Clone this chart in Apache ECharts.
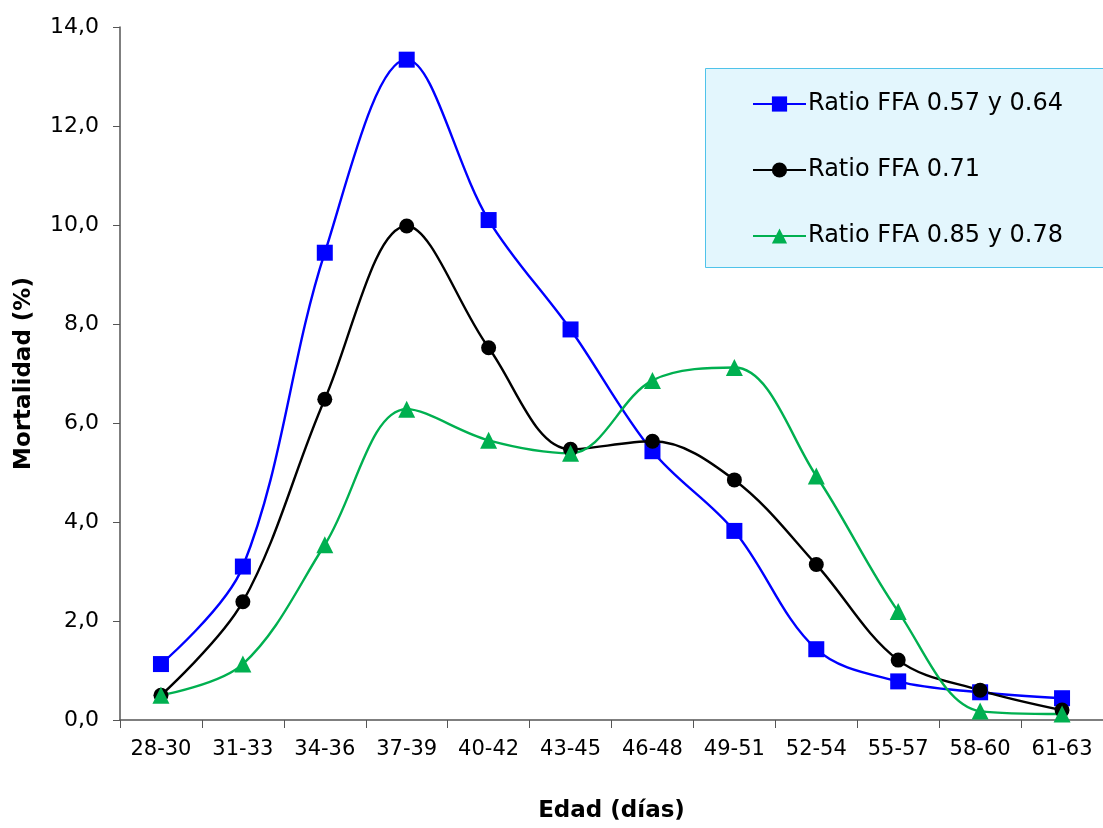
<!DOCTYPE html>
<html>
<head>
<meta charset="utf-8">
<script src="https://cdn.jsdelivr.net/npm/echarts@6/dist/echarts.min.js"></script>
<style>html,body{margin:0;padding:0;background:#fff}#c{width:1103px;height:828px}</style>
</head>
<body>
<div id="c"></div>
<script>
const categories = ['28-30','31-33','34-36','37-39','40-42','43-45','46-48','49-51','52-54','55-57','58-60','61-63'];
const seriesNames = ['Ratio FFA 0.57 y 0.64','Ratio FFA 0.71','Ratio FFA 0.85 y 0.78'];
const ratio057 = [1.13, 3.1, 9.44, 13.34, 10.1, 7.89, 5.43, 3.82, 1.43, 0.78, 0.56, 0.44];
const ratio071 = [0.5, 2.39, 6.48, 9.98, 7.52, 5.47, 5.63, 4.85, 3.14, 1.21, 0.6, 0.2];
const ratio085 = [0.5, 1.13, 3.54, 6.28, 5.65, 5.39, 6.86, 7.12, 4.93, 2.19, 0.18, 0.12];
const yTicks = [0, 2, 4, 6, 8, 10, 12, 14];

const FONT = '"DejaVu Sans", Verdana, sans-serif';
const chart = echarts.init(document.getElementById('c'), null, {renderer: 'canvas'});
function mk(name, data, color, symbol, size) {
  return {
    name, type: 'line', data, smooth: 0.35,
    symbol, symbolSize: size, showSymbol: true,
    lineStyle: {color, width: 2.4},
    itemStyle: {color, borderWidth: 0},
    emphasis: {disabled: true},
    z: 3
  };
}
chart.setOption({
  animation: false,
  backgroundColor: '#fff',
  grid: {left: 120, right: -8, top: 27, bottom: 102, containLabel: false},
  graphic: [{
    type: 'rect', left: 705, top: 68, z: 0,
    shape: {width: 410, height: 199},
    style: {fill: '#e3f6fd', stroke: '#4fc3ea', lineWidth: 1}
  }],
  legend: {
    orient: 'vertical', left: 747, top: 87, itemGap: 42,
    itemWidth: 53, itemHeight: 19,
    textStyle: {fontFamily: FONT, fontSize: 24, color: '#000', padding: [0,0,0,-3]},
    data: seriesNames.map(n => ({name: n})),
    z: 5
  },
  xAxis: {
    type: 'category', data: categories, boundaryGap: true,
    axisLine: {lineStyle: {color: '#555', width: 1.5}},
    axisTick: {show: true, length: 8, alignWithLabel: false, lineStyle: {color: '#555'}},
    axisLabel: {fontFamily: FONT, fontSize: 21, color: '#000', margin: 19, interval: 0},
    name: 'Edad (días)', nameLocation: 'middle', nameGap: 80,
    nameTextStyle: {fontFamily: FONT, fontSize: 23, fontWeight: 'bold', color: '#000'}
  },
  yAxis: {
    type: 'value', min: yTicks[0], max: yTicks[yTicks.length-1], interval: 2,
    axisLine: {show: true, lineStyle: {color: '#555', width: 1.5}},
    axisTick: {show: true, length: 7, lineStyle: {color: '#555'}},
    splitLine: {show: false},
    axisLabel: {fontFamily: FONT, fontSize: 22, color: '#000', margin: 21,
      formatter: v => v.toFixed(1).replace('.', ',')},
    name: 'Mortalidad (%)', nameLocation: 'middle', nameGap: 84,
    nameTextStyle: {fontFamily: FONT, fontSize: 23, fontWeight: 'bold', color: '#000', padding: [0, 0, 0, 0]},
  },
  series: [
    mk(seriesNames[0], ratio057, '#0000ff', 'rect', 16),
    mk(seriesNames[1], ratio071, '#000000', 'circle', 15),
    mk(seriesNames[2], ratio085, '#00b050', 'triangle', 17)
  ]
});
</script>
</body>
</html>
